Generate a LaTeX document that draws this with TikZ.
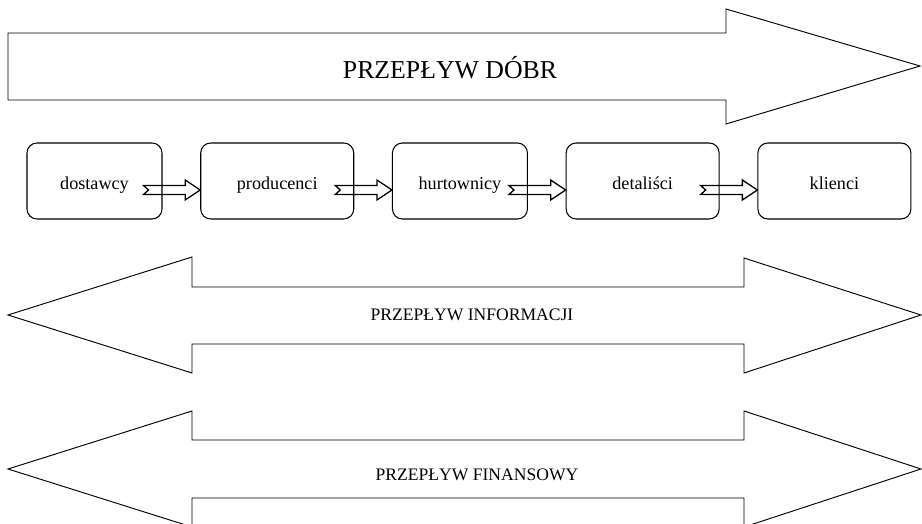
\documentclass[tikz,border=0pt]{standalone}
\usepackage{fontspec}
\setmainfont{Liberation Serif}
\usetikzlibrary{calc,positioning}
\tikzset{
  box/.style={draw=black,line width=.9pt,rounded corners=3mm,minimum height=22.8mm,minimum width=40.5mm,inner sep=2pt,text height=15pt,text depth=0pt,font=\fontsize{15.5}{18}\selectfont},
  wide/.style={minimum width=45.9mm},
  band/.style={draw=black,line width=.8pt,line join=miter},
  fat/.style={draw=black,line width=1.1pt,to path={
    ($(\tikztostart)+(0,-4.5)$) -- ($(\tikztotarget)+(-15,-4.5)$) -- ($(\tikztotarget)+(-15,-10)$)
    -- (\tikztotarget) -- ($(\tikztotarget)+(-15,10)$) -- ($(\tikztotarget)+(-15,4.5)$)
    -- ($(\tikztostart)+(0,4.5)$) -- ($(\tikztostart)+(5,0)$) -- cycle}},
  title/.style={anchor=base,font=\fontsize{22}{26}\selectfont},
  flowlabel/.style={anchor=base,font=\fontsize{15}{18}\selectfont}
}
\begin{document}
\begin{tikzpicture}[x=0.3mm,y=-0.3mm,node distance=11.3mm]
  \useasboundingbox (0,0) rectangle (922,524);
  % goods
  \draw[band] (8,33) -- (726,33) -- (726,9) -- (920,66) -- (726,124) -- (726,100) -- (8,100) -- cycle;
  \node[title] (goods) at (450,79) {PRZEPŁYW DÓBR};
  % supply chain
  \node[box] (dost) at (94.5,181) {dostawcy};
  \node[box,wide,right=of dost] (prod) {producenci};
  \node[box,right=of prod] (hurt) {hurtownicy};
  \node[box,wide,right=of hurt] (detal) {detaliści};
  \node[box,wide,right=of detal] (klient) {klienci};
  \draw[fat] ([shift={(-19,9)}]dost.east) to ([shift={(0,9)}]prod.west);
  \draw[fat] ([shift={(-19,9)}]prod.east) to ([shift={(0,9)}]hurt.west);
  \draw[fat] ([shift={(-19,9)}]hurt.east) to ([shift={(0,9)}]detal.west);
  \draw[fat] ([shift={(-19,9)}]detal.east) to ([shift={(0,9)}]klient.west);
  % information
  \draw[band] (8,315) -- (192,257) -- (192,287) -- (744,287) -- (744,258) -- (921,315)
    -- (744,373) -- (744,344) -- (192,344) -- (192,373) -- cycle;
  \node[flowlabel] (info) at (472,321) {PRZEPŁYW INFORMACJI};
  % money
  \draw[band] (8,469) -- (192,411) -- (192,440) -- (744,440) -- (744,411) -- (921,469)
    -- (744,527) -- (744,498) -- (192,498) -- (192,527) -- cycle;
  \node[flowlabel] (fin) at (477,480) {PRZEPŁYW FINANSOWY};
\end{tikzpicture}
\end{document}
